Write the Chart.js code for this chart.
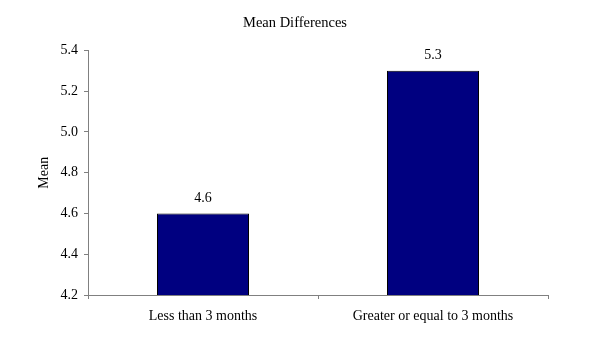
<!DOCTYPE html>
<html>
<head>
<meta charset="utf-8">
<script src="https://cdn.jsdelivr.net/npm/chart.js@4"></script>
<style>
  html, body { margin: 0; padding: 0; background: #ffffff; }
  #wrap { width: 590px; height: 340px; }
</style>
</head>
<body>
<div id="wrap"><canvas id="chart"></canvas></div>
<script>
const categories = ['Less than 3 months', 'Greater or equal to 3 months'];
const meanValues = [4.6, 5.3];
const yTicks = [4.2, 4.4, 4.6, 4.8, 5.0, 5.2, 5.4];

const serif = '"Liberation Serif", "Times New Roman", serif';

// prints the value above each bar
const valueLabels = {
  id: 'valueLabels',
  afterDatasetsDraw(chart) {
    const ctx = chart.ctx;
    const meta = chart.getDatasetMeta(0);
    ctx.save();
    ctx.font = '14px ' + serif;
    ctx.fillStyle = '#000000';
    ctx.textAlign = 'center';
    ctx.textBaseline = 'middle';
    meta.data.forEach((bar, i) => {
      ctx.fillText(meanValues[i].toFixed(1), bar.x, bar.y - 15);
    });
    ctx.restore();
  }
};

const ctx = document.getElementById('chart').getContext('2d');
new Chart(ctx, {
  type: 'bar',
  data: {
    labels: categories,
    datasets: [{
      data: meanValues,
      backgroundColor: '#000080',
      borderColor: '#000000',
      borderWidth: 1,
      barPercentage: 0.4,
      categoryPercentage: 1.0
    }]
  },
  options: {
    responsive: true,
    maintainAspectRatio: false,
    animation: false,
    devicePixelRatio: 1,
    layout: { padding: 0 },
    scales: {
      x: {
        offset: true,
        grid: {
          offset: true,
          drawOnChartArea: false,
          drawTicks: true,
          tickLength: 4,
          color: '#808080'
        },
        border: { display: true, color: '#808080', width: 1 },
        ticks: {
          color: '#000000',
          padding: 9,
          maxRotation: 0,
          font: { family: serif, size: 14 }
        },
        afterFit(scale) { scale.height = 45; }
      },
      y: {
        min: 4.2,
        max: 5.4,
        afterBuildTicks(scale) {
          scale.ticks = yTicks.map(v => ({ value: v }));
        },
        grid: {
          drawOnChartArea: false,
          drawTicks: true,
          tickLength: 4,
          color: '#808080'
        },
        border: { display: true, color: '#808080', width: 1 },
        ticks: {
          color: '#000000',
          padding: 6,
          font: { family: serif, size: 14 },
          callback: (v) => Number(v).toFixed(1)
        },
        title: {
          display: true,
          text: 'Mean',
          color: '#000000',
          font: { family: serif, size: 14 },
          padding: { top: 36, bottom: 0 }
        },
        afterFit(scale) { scale.width = 88; }
      },
      // empty right-hand box so the plot ends short of the canvas edge
      spacer: {
        type: 'linear',
        position: 'right',
        min: 0,
        max: 1,
        grid: { display: false },
        border: { display: false },
        ticks: { display: false },
        afterFit(scale) { scale.width = 42; }
      }
    },
    plugins: {
      legend: { display: false },
      tooltip: { enabled: false },
      title: {
        display: true,
        text: 'Mean Differences',
        color: '#000000',
        font: { family: serif, size: 14.5, weight: 'normal' },
        padding: { top: 14, bottom: 19 }
      }
    }
  },
  plugins: [valueLabels]
});
</script>
</body>
</html>
